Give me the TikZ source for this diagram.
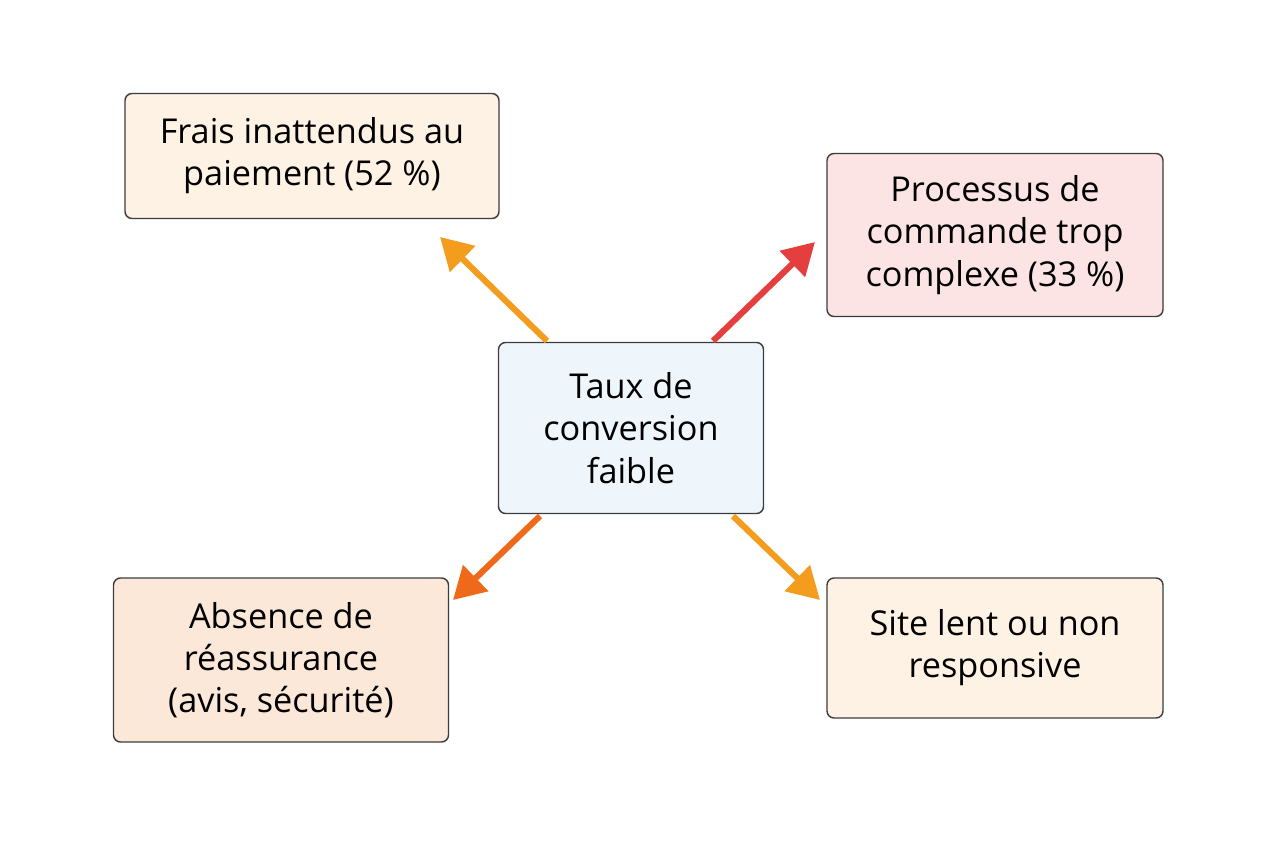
\documentclass[tikz,border=0pt]{standalone}
\usepackage{fontspec}
\setmainfont{Open Sans}
\usetikzlibrary{arrows.meta}
\definecolor{BoxLine}{RGB}{60,60,60}
\definecolor{WarmClr}{RGB}{253,242,228}
\definecolor{RedBoxClr}{RGB}{252,228,228}
\definecolor{MainClr}{RGB}{238,246,251}
\definecolor{PeachClr}{RGB}{252,232,216}
\definecolor{OrangeClr}{RGB}{243,156,30}
\definecolor{RedClr}{RGB}{229,62,62}
\definecolor{DeepOrangeClr}{RGB}{238,106,26}
\tikzset{
  box/.style={draw=BoxLine,line width=0.8pt,rounded corners=4pt,align=center,
    font=\fontsize{19.5}{24}\selectfont,inner sep=0pt},
  link/.style={line width=3.5pt,-{Triangle[length=18pt,width=20pt]}}
}
\begin{document}
\begin{tikzpicture}[x=0.02cm,y=-0.02cm]
\useasboundingbox (0,0) rectangle (1264,848);

\node[box,fill=MainClr,minimum width=265*0.02cm,minimum height=171*0.02cm] (conv) at (631,428) {Taux de\\conversion\\faible};
\node[box,fill=WarmClr,minimum width=374*0.02cm,minimum height=125*0.02cm] (frais) at (312,156) {Frais inattendus au\\paiement (52 \%)};
\node[box,fill=RedBoxClr,minimum width=336*0.02cm,minimum height=163*0.02cm] (proc) at (995,235) {Processus de\\commande trop\\complexe (33 \%)};
\node[box,fill=PeachClr,minimum width=335*0.02cm,minimum height=164*0.02cm] (abs) at (281,660) {Absence de\\réassurance\\(avis, sécurité)};
\node[box,fill=WarmClr,minimum width=336*0.02cm,minimum height=140*0.02cm] (site) at (995,648) {Site lent ou non\\responsive};

% arrow ends
\coordinate (s1) at (547,341);
\coordinate (e1) at (440,237);
\coordinate (s2) at (713,341);
\coordinate (e2) at (815,242);
\coordinate (s3) at (540,516);
\coordinate (e3) at (453,600);
\coordinate (s4) at (733,516);
\coordinate (e4) at (820,600);

\draw[link,OrangeClr] (s1) -- (e1);
\draw[link,RedClr] (s2) -- (e2);
\draw[link,DeepOrangeClr] (s3) -- (e3);
\draw[link,OrangeClr] (s4) -- (e4);
\end{tikzpicture}
\end{document}
